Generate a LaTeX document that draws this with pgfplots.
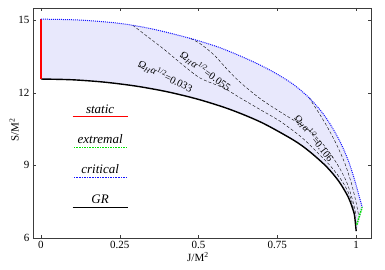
\documentclass[border=0pt]{standalone}
\usepackage{fontspec}
\setmainfont{Liberation Serif}
\usepackage{pgfplots}
\pgfplotsset{compat=1.18}
\definecolor{fillc}{RGB}{232,232,252}
\definecolor{axgray}{RGB}{60,60,60}
\definecolor{ggreen}{RGB}{0,225,0}
\definecolor{bblue}{RGB}{20,20,255}
\begin{document}
\begin{tikzpicture}
\begin{axis}[name=ax,
  scale only axis, width=338pt, height=230pt,
  xmin=-0.025, xmax=1.047, ymin=6, ymax=15.5,
  xtick={0,0.25,0.5,0.75,1}, xticklabels={0,0.25,0.5,0.75,1},
  ytick={6,9,12,15},
  tick align=inside, tick style={axgray, thin}, axis line style={axgray, thin},
  major tick length=3pt,
  tick label style={font=\fontsize{11}{12}\selectfont},
  /pgf/number format/assume math mode=true,
  xlabel={J/M\textsuperscript{2}}, ylabel={S/M\textsuperscript{2}},
  label style={font=\fontsize{11}{12}\selectfont},
  xlabel style={at={(axis description cs:0.488,-0.083)}, anchor=center},
  ylabel style={at={(axis description cs:-0.056,0.47)}, anchor=center},
  clip=false,
]
% shaded region
\addplot[draw=none, fill=fillc, smooth] coordinates {
 (0,15.04) (0.127,15.0) (0.253,14.86) (0.358,14.62) (0.475,14.24) (0.570,13.85)
 (0.665,13.33) (0.737,12.86) (0.80,12.35) (0.85,11.8) (0.89,11.22) (0.92,10.65)
 (0.95,9.95) (0.975,9.2) (0.995,8.4) (1.01,7.7) (1.019,7.27)
 (1.0,6.283) (0.995,6.911) (0.99,7.170) (0.98,7.533) (0.97,7.811) (0.95,8.245)
 (0.93,8.593) (0.9,9.022) (0.85,9.593) (0.8,10.053) (0.7,10.770) (0.6,11.310)
 (0.5,11.724) (0.4,12.042) (0.3,12.277) (0.2,12.439) (0.1,12.535) (0,12.566)
} -- cycle;
% dashed iso-Omega curves
\addplot[black, thin, densely dashed, smooth] coordinates {
 (0.291,14.79) (0.35,14.2) (0.39,13.8) (0.45,13.15) (0.506,12.6) (0.579,12.2)
 (0.633,11.78) (0.696,11.3) (0.76,10.81) (0.823,10.2) (0.864,9.7) (0.92,8.95)
 (0.96,8.25) (0.985,7.55) (1.0,6.6)};
\addplot[black, thin, densely dashed, smooth] coordinates {
 (0.475,14.24) (0.506,14.02) (0.55,13.55) (0.592,12.95) (0.633,12.42) (0.696,11.75)
 (0.76,11.2) (0.845,10.5) (0.896,9.86) (0.94,9.05) (0.97,8.3) (0.99,7.5) (1.0,6.9)};
\addplot[black, thin, densely dashed, smooth] coordinates {
 (0.85,11.8) (0.88,11.2) (0.91,10.55) (0.94,9.8) (0.965,9.05) (0.985,8.25)
 (1.0,7.45) (1.008,6.9)};
% GR
\addplot[black, line width=1.4pt, smooth] coordinates {
 (0,12.566) (0.1,12.535) (0.2,12.439) (0.3,12.277) (0.4,12.042) (0.5,11.724)
 (0.6,11.310) (0.7,10.770) (0.8,10.053) (0.85,9.593) (0.9,9.022) (0.93,8.593)
 (0.95,8.245) (0.97,7.811) (0.98,7.533) (0.99,7.170) (0.995,6.911) (1.0,6.283)};
% static
\addplot[red, line width=1.4pt] coordinates {(0,12.566) (0,15.04)};
% extremal
\addplot[ggreen, line width=1.5pt, dash pattern=on 1.5pt off 1pt] coordinates {(1.002,6.55) (1.01,6.9) (1.019,7.27)};
% critical
\addplot[bblue, line width=1pt, densely dotted, smooth] coordinates {
 (0,15.04) (0.127,15.0) (0.253,14.86) (0.358,14.62) (0.475,14.24) (0.570,13.85)
 (0.665,13.33) (0.737,12.86) (0.80,12.35) (0.85,11.8) (0.89,11.22) (0.92,10.65)
 (0.95,9.95) (0.975,9.2) (0.995,8.4) (1.01,7.7) (1.019,7.27)};
% curve labels
\node[rotate=-26, font=\fontsize{10.5}{12}\selectfont] at (axis cs:0.395,12.68)
 {Ω\textsubscript{\textit{H}}\textit{α}\textsuperscript{1/2}=0.033};
\node[rotate=-36, font=\fontsize{10.5}{12}\selectfont] at (axis cs:0.522,12.88)
 {Ω\textsubscript{\textit{H}}\textit{α}\textsuperscript{1/2}=0.055};
\node[rotate=-52, font=\fontsize{10}{12}\selectfont] at (axis cs:0.866,10.12)
 {Ω\textsubscript{\textit{H}}\textit{α}\textsuperscript{1/2}=0.106};
% legend samples
\addplot[red, line width=1.4pt] coordinates {(0.101,11.01) (0.275,11.01)};
\addplot[ggreen, line width=1.5pt] coordinates {(0.101,9.74) (0.275,9.74)};
\addplot[white, line width=1.7pt, dash pattern=on 0.8pt off 1.8pt] coordinates {(0.101,9.74) (0.275,9.74)};
\addplot[bblue, line width=1.4pt] coordinates {(0.101,8.51) (0.275,8.51)};
\addplot[white, line width=1.6pt, dash pattern=on 0.8pt off 1.8pt] coordinates {(0.101,8.51) (0.275,8.51)};
\addplot[black, line width=1.4pt] coordinates {(0.101,7.27) (0.275,7.27)};
\node[above=0pt, font=\fontsize{13}{14}\selectfont\itshape] at (axis cs:0.188,11.01) {static};
\node[above=0pt, font=\fontsize{13}{14}\selectfont\itshape] at (axis cs:0.188,9.74) {extremal};
\node[above=0pt, font=\fontsize{13}{14}\selectfont\itshape] at (axis cs:0.188,8.51) {critical};
\node[above=0pt, font=\fontsize{13}{14}\selectfont\itshape] at (axis cs:0.188,7.27) {GR};
\end{axis}
\path (ax.south west) ++(-33pt,-32pt);
\path (ax.north east) ++(14pt,8pt);
\end{tikzpicture}
\end{document}
